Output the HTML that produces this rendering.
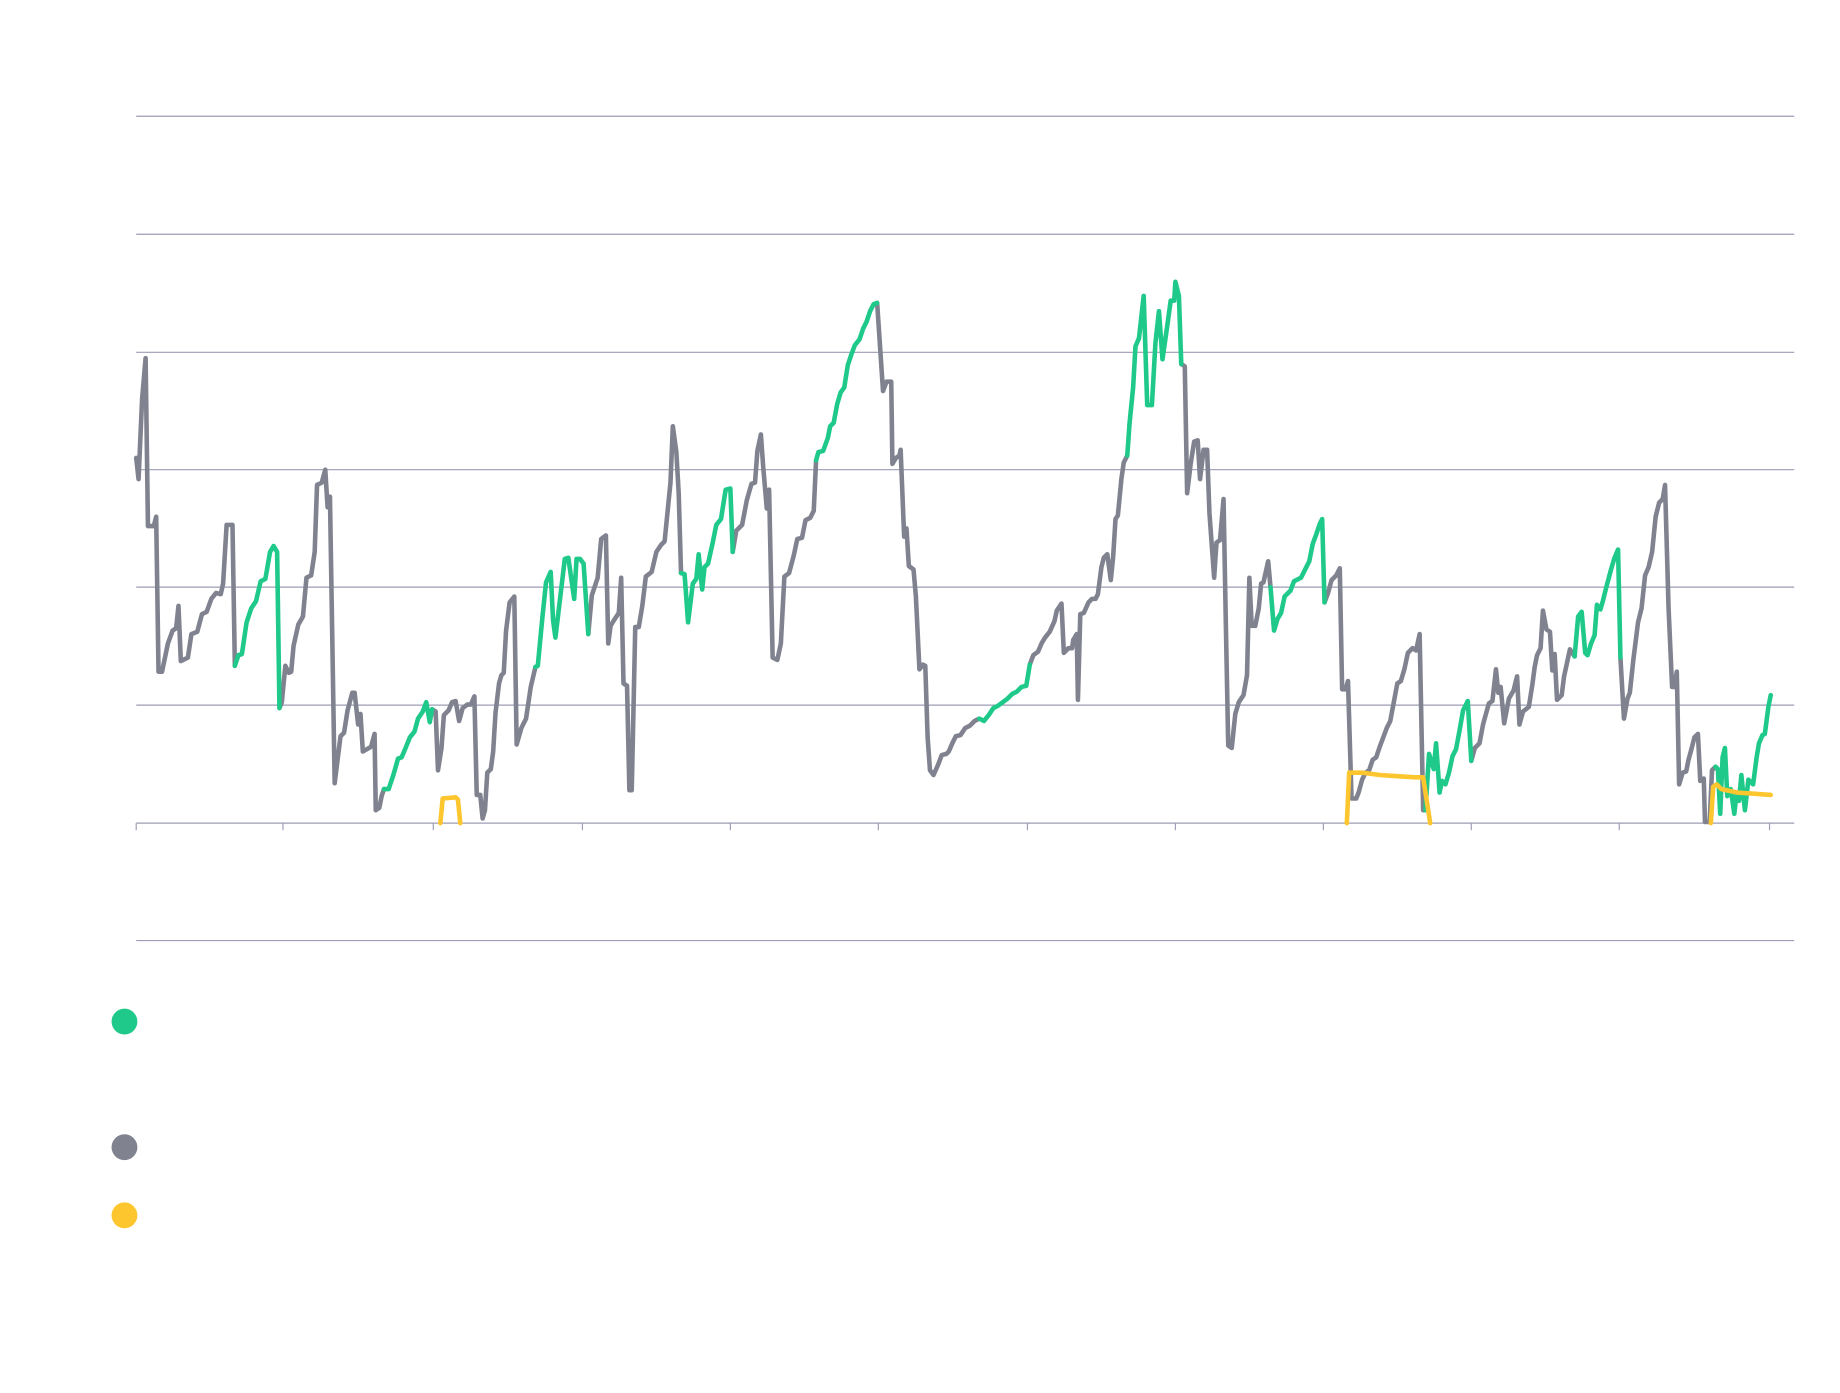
<!DOCTYPE html>
<html><head><meta charset="utf-8"><style>html,body{margin:0;padding:0;background:#fff}svg{display:block}</style></head>
<body>
<svg id="s" width="1840" height="1393" viewBox="0 0 1567 1186.3" xmlns="http://www.w3.org/2000/svg">
<g stroke="#9c9db6" stroke-width="1">
<line x1="116" x2="1528" y1="99" y2="99"/><line x1="116" x2="1528" y1="199.5" y2="199.5"/>
<line x1="116" x2="1528" y1="300" y2="300"/><line x1="116" x2="1528" y1="400" y2="400"/>
<line x1="116" x2="1528" y1="500" y2="500"/><line x1="116" x2="1528" y1="600.5" y2="600.5"/>
<line x1="116" x2="1528" y1="701" y2="701"/><line x1="116" x2="1528" y1="801" y2="801"/>
<g id="ticks"></g>
</g>
<g id="lines" fill="none" stroke-width="3.9" stroke-linejoin="round" stroke-linecap="round"></g>
<circle cx="106" cy="870" r="11" fill="#1ec98a"/>
<circle cx="106" cy="977" r="11" fill="#80838f"/>
<circle cx="106" cy="1035" r="11" fill="#fdc62e"/>
</svg>
<script>
var NS="http://www.w3.org/2000/svg";
var tk=document.getElementById("ticks");
[116,241,369,496,622,748,875,1001,1127,1253,1379,1507].forEach(function(x){var l=document.createElementNS(NS,"line");l.setAttribute("x1",x);l.setAttribute("x2",x);l.setAttribute("y1",701);l.setAttribute("y2",707);tk.appendChild(l);});
var g="116,390 118,408 121,340 124,305 126,448 131,448 133,440 135,572 138,572 143,548 147,537 150,535 152,516 154,563 160,560 163,540 168,538 172,523 176,521 180,510 184,505 188,506 190,497 193,447 198,447 200,567 203,558 206,557 210,530 214,518 218,512 222,495 226,493 230,470 233,465 236,470 238,603 240,598 243,567 246,573 248,572 250,550 254,532 258,525 261,492 265,490 268,470 270,413 274,411 277,400 279,432 281,423 285,667 290,627 293,624 296,605 300,590 302,590 305,617 307,608 309,640 316,636 319,625 320,690 323,688 325,678 327,672 331,672 335,660 339,646 342,645 345,638 349,628 353,623 356,612 360,606 363,598 366,615 368,604 371,606 373,656 376,637 378,609 382,605 385,598 388,597 391,614 394,603 398,600 401,600 404,593 406,677 409,677 411,697 413,690 415,658 418,655 420,640 422,607 425,582 427,575 429,573 431,537 434,513 438,508 440,634 444,620 448,612 452,585 456,568 458,567 462,525 465,496 469,487 471,528 473,543 476,518 481,476 484,475 489,510 491,476 494,476 497,480 501,540 504,507 509,492 512,459 516,456 518,548 520,533 523,528 527,522 529,492 531,582 534,584 536,673 538,673 541,534 544,534 547,516 550,491 555,487 559,470 563,464 566,461 571,411 573,363 576,385 578,420 580,488 583,489 586,530 590,497 593,493 595,472 598,502 600,483 603,480 607,462 610,447 614,442 618,417 622,416 624,470 627,452 632,447 636,426 640,412 643,411 645,384 648,370 650,398 653,433 655,417 658,560 662,562 665,548 668,491 672,488 676,473 679,459 683,458 686,443 690,441 693,435 695,392 697,385 701,384 705,373 707,363 710,360 713,344 716,334 719,330 722,311 725,302 728,294 732,289 735,280 738,274 741,265 744,259 747,258 752,333 755,325 759,325 760,395 763,390 766,388 767,383 770,457 772,450 774,482 778,485 780,508 783,570 786,566 788,567 790,628 792,656 795,660 799,651 802,643 806,642 808,640 811,633 814,627 818,626 822,620 826,618 830,614 834,612 838,614 842,609 846,603 850,601 854,598 858,595 862,591 866,589 870,585 874,584 877,566 880,558 884,555 887,548 890,543 894,538 898,529 900,520 904,514 906,556 910,552 913,552 914,545 917,540 918,596 920,523 923,522 927,513 930,510 933,510 935,506 938,483 940,475 943,472 946,494 948,474 950,442 952,439 955,408 957,394 960,388 962,360 965,330 967,295 970,288 974,252 977,345 981,345 984,292 987,265 990,306 994,278 997,256 1000,256 1001,240 1004,252 1006,310 1009,312 1011,420 1014,395 1017,376 1020,375 1022,408 1025,383 1028,383 1030,437 1034,492 1036,462 1039,460 1042,425 1044,533 1046,635 1049,637 1052,608 1055,598 1059,592 1062,575 1064,492 1066,533 1069,533 1072,518 1074,497 1076,496 1080,478 1082,500 1085,537 1088,527 1091,522 1094,508 1099,503 1102,495 1108,492 1112,484 1115,478 1118,463 1121,455 1124,446 1126,442 1128,513 1131,505 1134,494 1138,490 1141,484 1143,587 1146,587 1148,580 1151,680 1155,680 1157,675 1160,664 1163,658 1166,656 1169,647 1172,645 1175,636 1178,628 1181,620 1184,614 1187,598 1190,582 1193,580 1196,570 1199,556 1203,552 1206,554 1209,540 1212,690 1214,690 1217,642 1221,655 1223,633 1226,675 1228,665 1231,668 1234,658 1237,644 1240,638 1243,622 1246,605 1250,597 1253,648 1256,637 1260,633 1263,617 1266,606 1268,599 1271,597 1274,570 1276,590 1278,585 1281,616 1285,595 1289,588 1292,576 1294,617 1297,606 1302,602 1305,583 1307,568 1309,558 1312,552 1314,520 1317,536 1320,538 1322,571 1324,557 1326,596 1330,592 1332,576 1337,553 1341,559 1344,525 1347,521 1350,556 1352,558 1355,548 1358,541 1360,515 1363,519 1365,512 1368,500 1372,485 1375,475 1378,468 1380,560 1383,612 1386,595 1388,590 1391,562 1395,530 1398,518 1401,490 1404,483 1407,470 1410,440 1413,428 1416,425 1418,413 1421,518 1424,585 1426,585 1428,572 1430,668 1433,658 1436,657 1438,647 1441,636 1443,628 1446,625 1448,665 1451,663 1452,700 1456,700 1458,656 1461,653 1463,655 1465,693 1467,645 1469,637 1471,678 1474,672 1477,693 1479,675 1481,682 1483,660 1486,690 1489,664 1493,668 1496,645 1498,633 1501,626 1503,625 1506,602 1508,592";
var pts=g.split(" ").map(function(p){return p.split(",").map(Number);});
var gr=[[200,237],[329,367],[455,500],[580,623],[695,749],[836,876],[960,1006],[1083,1128],[1215,1253],[1340,1380],[1460,1509]];
function isG(x){for(var i=0;i<gr.length;i++)if(x>=gr[i][0]&&x<=gr[i][1])return true;return false;}
var L=document.getElementById("lines");
function add(arr,c){var p=document.createElementNS(NS,"polyline");p.setAttribute("points",arr.map(function(a){return a.join(",")}).join(" "));p.setAttribute("stroke",c);L.appendChild(p);}
var cur=[pts[0]],cc=null,segs=[];
for(var i=1;i<pts.length;i++){var c=isG((pts[i-1][0]+pts[i][0])/2)?"#1ec98a":"#80838f";if(cc!==null&&c!==cc){segs.push([cur,cc]);cur=[pts[i-1]];}cc=c;cur.push(pts[i]);}
segs.push([cur,cc]);
segs.filter(function(s){return s[1]!=="#1ec98a"}).forEach(function(s){add(s[0],s[1])});
segs.filter(function(s){return s[1]==="#1ec98a"}).forEach(function(s){add(s[0],s[1])});
["375,701 377,680 388,679 390,681 392,701","1147,701 1149,658 1160,658 1175,660 1190,661 1205,662 1212,662 1218,701","1457,701 1459,670 1462,668 1466,672 1480,675 1495,676 1508,677"].forEach(function(s){add(s.split(" ").map(function(p){return p.split(",").map(Number)}),"#fdc62e");});
</script>
</body></html>
